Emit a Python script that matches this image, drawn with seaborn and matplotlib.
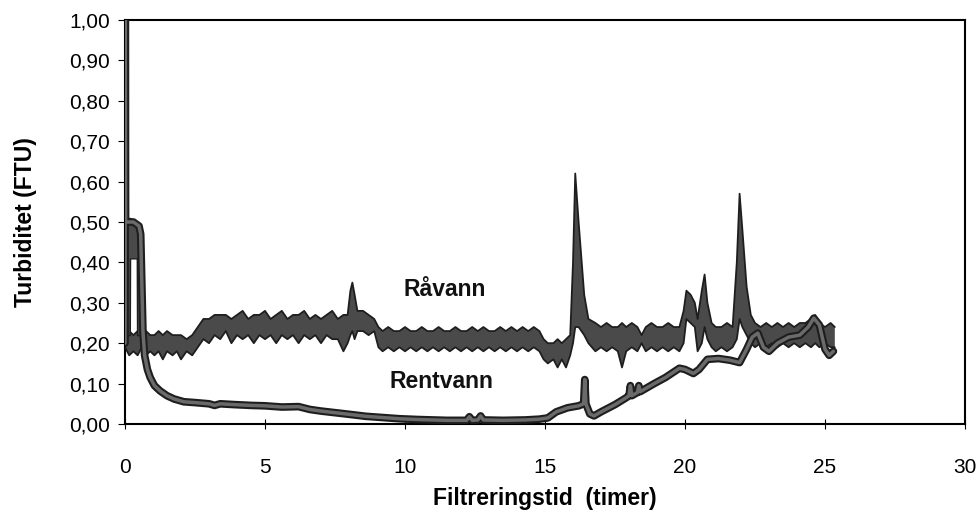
import numpy as np
import pandas as pd
import matplotlib
matplotlib.use("Agg")
import matplotlib.pyplot as plt
import seaborn as sns

# ---------------- data ----------------
# Råvann (raw water): noisy band, lower / upper envelope
raw_t = [0.00, 0.15, 0.30, 0.45, 0.60, 0.75, 0.90, 1.05, 1.20, 1.35, 1.50, 1.70, 1.85, 2.00, 2.20, 2.40,
         2.60, 2.80, 3.00, 3.20, 3.40, 3.60, 3.80, 4.00, 4.20, 4.40, 4.60, 4.80, 5.00, 5.20, 5.40, 5.60,
         5.80, 6.00, 6.20, 6.40, 6.60, 6.80, 7.00, 7.20, 7.40, 7.60, 7.80, 7.95, 8.05, 8.12, 8.20, 8.30,
         8.50, 8.70, 8.90, 9.05, 9.20, 9.40, 9.60, 9.80, 10.0, 10.2, 10.4, 10.6, 10.8, 11.0, 11.2, 11.4,
         11.6, 11.8, 12.0, 12.2, 12.4, 12.6, 12.8, 13.0, 13.2, 13.4, 13.6, 13.8, 14.0, 14.2, 14.4, 14.6,
         14.8, 14.95, 15.1, 15.3, 15.45, 15.6, 15.75, 15.9, 16.0, 16.08, 16.2, 16.4, 16.55, 16.8, 17.0, 17.2,
         17.4, 17.6, 17.75, 17.9, 18.1, 18.3, 18.45, 18.6, 18.8, 19.0, 19.2, 19.4, 19.6, 19.8, 19.95, 20.05,
         20.2, 20.35, 20.45, 20.6, 20.7, 20.8, 20.95, 21.1, 21.3, 21.5, 21.7, 21.85, 21.95, 22.05, 22.2, 22.35,
         22.5, 22.7, 22.9, 23.1, 23.3, 23.5, 23.7, 23.9, 24.1, 24.3, 24.5, 24.65, 24.8, 25.0, 25.2, 25.35]
raw_lo = [0.19, 0.17, 0.18, 0.17, 0.19, 0.17, 0.18, 0.17, 0.18, 0.16, 0.18, 0.17, 0.18, 0.16, 0.18, 0.17,
          0.19, 0.21, 0.20, 0.22, 0.21, 0.23, 0.20, 0.22, 0.21, 0.22, 0.20, 0.22, 0.21, 0.22, 0.20, 0.22,
          0.21, 0.22, 0.20, 0.22, 0.21, 0.22, 0.20, 0.22, 0.21, 0.21, 0.18, 0.20, 0.22, 0.23, 0.21, 0.23,
          0.23, 0.22, 0.23, 0.19, 0.18, 0.19, 0.18, 0.19, 0.18, 0.19, 0.18, 0.19, 0.18, 0.19, 0.18, 0.19,
          0.18, 0.19, 0.18, 0.19, 0.18, 0.19, 0.18, 0.19, 0.18, 0.19, 0.18, 0.19, 0.18, 0.19, 0.18, 0.19,
          0.18, 0.16, 0.15, 0.16, 0.14, 0.16, 0.14, 0.17, 0.20, 0.24, 0.24, 0.22, 0.20, 0.18, 0.19, 0.18,
          0.19, 0.18, 0.14, 0.18, 0.19, 0.18, 0.20, 0.18, 0.19, 0.18, 0.19, 0.18, 0.19, 0.18, 0.20, 0.26,
          0.25, 0.24, 0.18, 0.20, 0.24, 0.21, 0.19, 0.18, 0.19, 0.18, 0.19, 0.21, 0.26, 0.24, 0.22, 0.20,
          0.19, 0.20, 0.19, 0.20, 0.19, 0.20, 0.19, 0.20, 0.19, 0.20, 0.19, 0.20, 0.19, 0.20, 0.19, 0.19]
raw_hi = [0.23, 0.23, 0.22, 0.23, 0.22, 0.23, 0.22, 0.22, 0.23, 0.22, 0.23, 0.22, 0.22, 0.22, 0.21, 0.22,
          0.24, 0.26, 0.26, 0.27, 0.27, 0.27, 0.26, 0.27, 0.28, 0.26, 0.27, 0.27, 0.28, 0.26, 0.27, 0.28,
          0.26, 0.27, 0.27, 0.28, 0.26, 0.27, 0.26, 0.27, 0.28, 0.26, 0.27, 0.27, 0.33, 0.35, 0.32, 0.28,
          0.28, 0.27, 0.26, 0.24, 0.23, 0.24, 0.23, 0.23, 0.24, 0.23, 0.23, 0.24, 0.23, 0.23, 0.24, 0.23,
          0.23, 0.24, 0.23, 0.23, 0.24, 0.23, 0.24, 0.23, 0.23, 0.24, 0.23, 0.24, 0.23, 0.24, 0.23, 0.24,
          0.23, 0.21, 0.20, 0.20, 0.21, 0.20, 0.21, 0.22, 0.40, 0.62, 0.50, 0.32, 0.26, 0.25, 0.24, 0.25,
          0.24, 0.24, 0.25, 0.24, 0.25, 0.24, 0.22, 0.24, 0.25, 0.24, 0.24, 0.25, 0.24, 0.24, 0.28, 0.33,
          0.32, 0.30, 0.26, 0.33, 0.37, 0.30, 0.25, 0.24, 0.24, 0.25, 0.24, 0.40, 0.57, 0.48, 0.34, 0.27,
          0.25, 0.24, 0.25, 0.24, 0.25, 0.24, 0.25, 0.24, 0.25, 0.25, 0.26, 0.27, 0.25, 0.24, 0.25, 0.24]

# Rentvann (clean water): start-up noise band and main curve
start_t = [0.00, 0.17, 0.18, 0.42, 0.43, 0.55, 0.62]
start_lo = [0.22, 0.22, 0.41, 0.41, 0.22, 0.22, 0.22]
start_hi = [0.51, 0.51, 0.51, 0.50, 0.49, 0.48, 0.24]

clean_t = [0.00, 0.01, 0.02, 0.30, 0.50, 0.56, 0.60, 0.64, 0.70, 0.80, 0.90, 1.05, 1.25, 1.50, 1.75, 2.10,
           2.50, 3.00, 3.20, 3.40, 3.90, 4.50, 5.00, 5.60, 6.20, 6.60, 7.00, 7.50, 8.00, 8.60, 9.20, 9.80,
           10.5, 11.5, 12.2, 12.3, 12.4, 12.6, 12.7, 12.8, 13.5, 14.3, 14.8, 15.1, 15.4, 15.8, 16.2, 16.38,
           16.42, 16.46, 16.6, 16.75, 17.0, 17.5, 17.9, 18.0, 18.05, 18.1, 18.3, 18.35, 18.4, 18.9, 19.3, 19.8,
           20.0, 20.3, 20.5, 20.8, 21.2, 21.6, 21.95, 22.2, 22.4, 22.6, 22.8, 23.0, 23.3, 23.7, 24.1, 24.4,
           24.6, 24.8, 25.0, 25.15, 25.3]
clean_v = [0.20, 1.02, 0.50, 0.50, 0.49, 0.47, 0.35, 0.23, 0.17, 0.135, 0.115, 0.095, 0.082, 0.070, 0.062, 0.055,
           0.053, 0.050, 0.046, 0.050, 0.048, 0.046, 0.045, 0.042, 0.043, 0.036, 0.032, 0.028, 0.024, 0.019, 0.016, 0.013,
           0.011, 0.009, 0.009, 0.018, 0.009, 0.010, 0.020, 0.010, 0.009, 0.010, 0.012, 0.015, 0.030, 0.040, 0.045, 0.050,
           0.110, 0.050, 0.025, 0.020, 0.030, 0.048, 0.065, 0.070, 0.095, 0.070, 0.078, 0.095, 0.080, 0.100, 0.115, 0.138,
           0.135, 0.125, 0.135, 0.160, 0.162, 0.158, 0.152, 0.185, 0.215, 0.225, 0.190, 0.180, 0.200, 0.215, 0.220, 0.240,
           0.262, 0.245, 0.185, 0.170, 0.180]

x_ticks = [0, 5, 10, 15, 20, 25, 30]
y_ticks = [0.0, 0.1, 0.2, 0.3, 0.4, 0.5, 0.6, 0.7, 0.8, 0.9, 1.0]
y_tick_labels = ["0,00", "0,10", "0,20", "0,30", "0,40", "0,50", "0,60", "0,70", "0,80", "0,90", "1,00"]

# ---------------- plot ----------------
sns.set_theme(style="white")
plt.rcParams["font.family"] = ["Liberation Sans", "DejaVu Sans"]

fig = plt.figure(figsize=(9.79, 5.13), dpi=100)
ax = fig.add_axes([0.1277, 0.1735, 0.858, 0.7875])

band_face = "#4a4a4a"
edge = "#1e1e1e"

# Råvann band
ax.fill_between(raw_t, raw_lo, raw_hi, facecolor=band_face, edgecolor="none", zorder=2)
raw_df = pd.DataFrame({"t": raw_t, "lo": raw_lo, "hi": raw_hi})
sns.lineplot(data=raw_df, x="t", y="lo", ax=ax, color=edge, lw=1.3, estimator=None, zorder=3)
sns.lineplot(data=raw_df, x="t", y="hi", ax=ax, color=edge, lw=1.3, estimator=None, zorder=3)

# Rentvann start-up noise
ax.fill_between(start_t, start_lo, start_hi, facecolor=band_face, edgecolor=edge, lw=1.0, zorder=4)

# Rentvann curve
clean_df = pd.DataFrame({"t": clean_t, "v": clean_v})
sns.lineplot(data=clean_df, x="t", y="v", ax=ax, color=edge, lw=5.5, estimator=None, sort=False, zorder=5)
sns.lineplot(data=clean_df, x="t", y="v", ax=ax, color="#6a6a6a", lw=2.5, estimator=None, sort=False, zorder=6)

ax.set_xlim(0, 30)
ax.set_ylim(0, 1.0)
ax.set_xticks(x_ticks)
ax.set_xticklabels([str(v) for v in x_ticks])
ax.set_yticks(y_ticks)
ax.set_yticklabels(y_tick_labels)

for s in ax.spines.values():
    s.set_visible(True)
    s.set_color("black")
    s.set_linewidth(1.5)

ax.tick_params(axis="x", direction="inout", length=7, width=0.8, colors="black",
               labelsize=15, pad=21, bottom=True)
ax.tick_params(axis="y", direction="out", length=5, width=0.8, colors="black",
               labelsize=15, pad=6, left=True)
for lab in ax.get_xticklabels() + ax.get_yticklabels():
    lab.set_color("black")

ax.set_xlabel("Filtreringstid  (timer)", fontsize=16.5, fontweight="bold", color="black")
ax.xaxis.set_label_coords(0.5, -0.155)
ax.set_ylabel("Turbiditet (FTU)", fontsize=16.5, fontweight="bold", color="black")
ax.yaxis.set_label_coords(-0.105, 0.5)

ax.text(11.43, 0.332, "Råvann", fontsize=16.5, fontweight="bold", ha="center", va="center", color="#111111")
ax.text(11.29, 0.104, "Rentvann", fontsize=16.5, fontweight="bold", ha="center", va="center", color="#111111")

ax.grid(False)
ax.set_facecolor("white")
fig.patch.set_facecolor("white")

fig.savefig("out.png", dpi=100)
